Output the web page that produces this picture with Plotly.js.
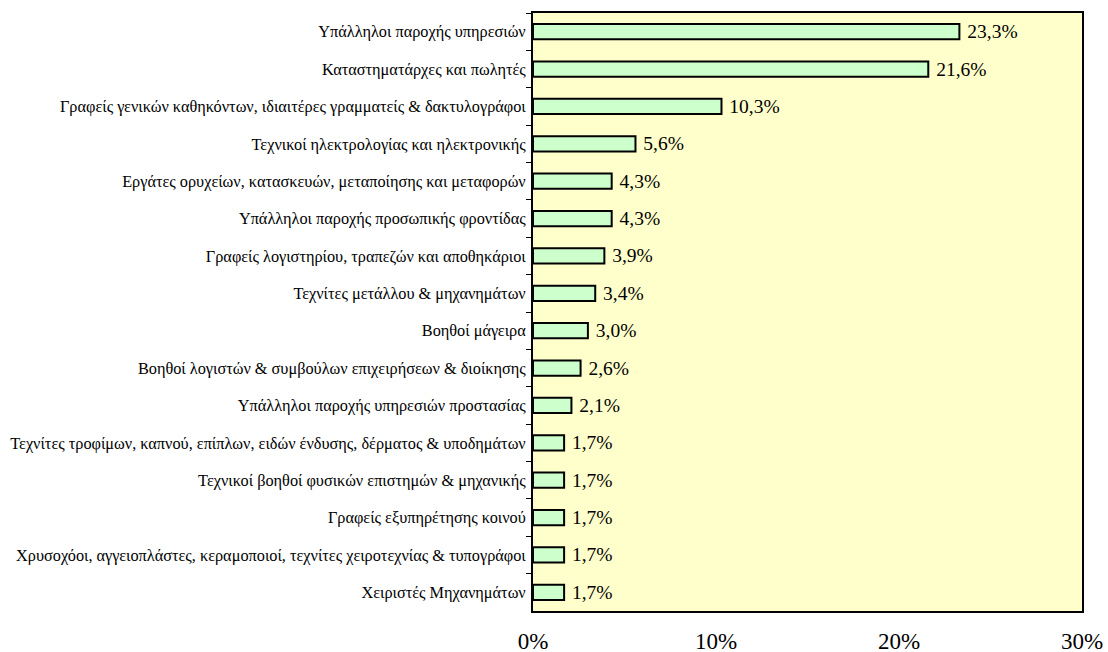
<!DOCTYPE html>
<html>
<head>
<meta charset="utf-8">
<script src="https://cdn.plot.ly/plotly-3.0.1.min.js"></script>
<style>body{margin:0;background:#fff;}#chart{width:1108px;height:652px;}</style>
</head>
<body>
<div id="chart"></div>
<script>
const categories = [
  "Υπάλληλοι παροχής υπηρεσιών",
  "Καταστηματάρχες και πωλητές",
  "Γραφείς γενικών καθηκόντων, ιδιαιτέρες γραμματείς & δακτυλογράφοι",
  "Τεχνικοί ηλεκτρολογίας και ηλεκτρονικής",
  "Εργάτες ορυχείων, κατασκευών, μεταποίησης και μεταφορών",
  "Υπάλληλοι παροχής προσωπικής φροντίδας",
  "Γραφείς λογιστηρίου, τραπεζών και αποθηκάριοι",
  "Τεχνίτες μετάλλου & μηχανημάτων",
  "Βοηθοί μάγειρα",
  "Βοηθοί λογιστών & συμβούλων επιχειρήσεων & διοίκησης",
  "Υπάλληλοι παροχής υπηρεσιών προστασίας",
  "Τεχνίτες τροφίμων, καπνού, επίπλων, ειδών ένδυσης, δέρματος & υποδημάτων",
  "Τεχνικοί βοηθοί φυσικών επιστημών & μηχανικής",
  "Γραφείς εξυπηρέτησης κοινού",
  "Χρυσοχόοι, αγγειοπλάστες, κεραμοποιοί, τεχνίτες χειροτεχνίας & τυπογράφοι",
  "Χειριστές Μηχανημάτων"
];
const values = [23.3, 21.6, 10.3, 5.6, 4.3, 4.3, 3.9, 3.4, 3.0, 2.6, 2.1, 1.7, 1.7, 1.7, 1.7, 1.7];
const xTickValues = [0, 10, 20, 30];
const xTickLabels = ["0%", "10%", "20%", "30%"];

const labels = values.map(v => " " + v.toFixed(1).replace(".", ",") + "%");
const serif = "Liberation Serif";

const trace = {
  type: "bar",
  orientation: "h",
  x: values,
  y: categories,
  text: labels,
  textposition: "outside",
  constraintext: "none",
  cliponaxis: false,
  textfont: {family: serif, size: 19.5, color: "#000"},
  marker: {color: "#CCFFCC", line: {color: "#000", width: 2}},
  width: 0.41,
  hoverinfo: "x+y"
};

const layout = {
  width: 1108, height: 652,
  margin: {l: 533, r: 26, t: 13, b: 41},
  paper_bgcolor: "#ffffff",
  plot_bgcolor: "#FFFFCC",
  showlegend: false,
  font: {family: serif},
  xaxis: {
    range: [0, 30],
    tickvals: xTickValues,
    ticktext: xTickLabels,
    showgrid: false,
    zeroline: false,
    showline: true, linecolor: "#000", linewidth: 2, mirror: true,
    ticks: "",
    ticklabelstandoff: 8,
    tickfont: {family: serif, size: 23, color: "#000"},
    fixedrange: true
  },
  yaxis: {
    autorange: "reversed",
    type: "category",
    showgrid: false,
    zeroline: false,
    showline: true, linecolor: "#000", linewidth: 2, mirror: true,
    ticks: "outside", ticklen: 5, tickwidth: 1, tickcolor: "#000",
    tickson: "boundaries",
    ticklabelstandoff: 2,
    tickfont: {family: serif, size: 16.3, color: "#000"},
    fixedrange: true
  }
};

Plotly.newPlot("chart", [trace], layout, {displayModeBar: false, staticPlot: true});
</script>
</body>
</html>
